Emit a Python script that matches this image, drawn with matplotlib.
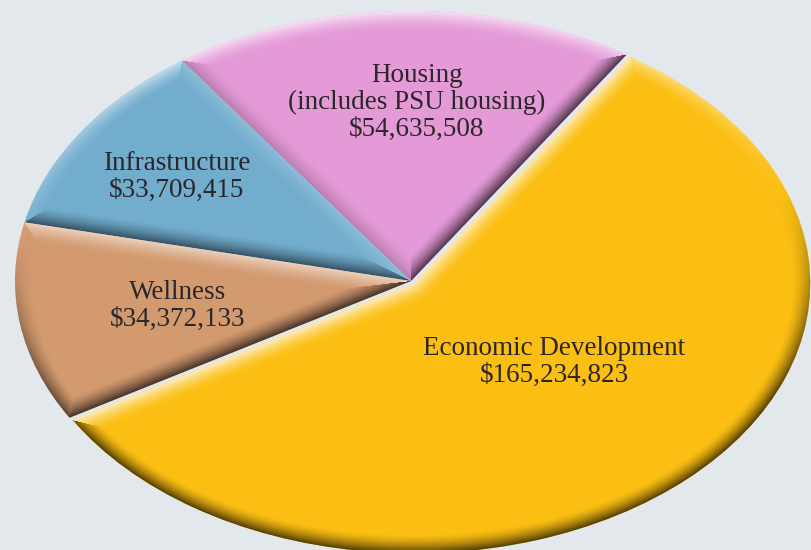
import numpy as np
import matplotlib
matplotlib.use("Agg")
import matplotlib.pyplot as plt
from matplotlib.colors import to_rgb

# data
categories = ["Housing\n(includes PSU housing)", "Infrastructure", "Wellness", "Economic Development"]
amounts = [54635508, 33709415, 34372133, 165234823]
colors = ["#E59AD8", "#72ADCE", "#D39A70", "#FBBF13"]
explode = [0, 0, 0, 0.012]
# label block centres in pixels (x from left, y from top)
label_pos = [(417, 102), (177, 177), (178, 306), (554, 362)]

W, H = 811, 550
bg = "#E3E8ED"
fig = plt.figure(figsize=(W / 100, H / 100), dpi=100, facecolor=bg)
ax = fig.add_axes([0, 0, 1, 1])
ax.set_facecolor(bg)

wedges, _ = ax.pie(amounts, colors=colors, explode=explode, startangle=57,
                   wedgeprops=dict(linewidth=0))
# stretch the pie into an ellipse
ax.set_aspect("auto")
cx0, cy0 = 411, 269      # pie centre, px from left / bottom
rx, ry = 396, 270        # radii in px
ax.set_xlim(-cx0 / rx, (W - cx0) / rx)
ax.set_ylim(-cy0 / ry, (H - cy0) / ry)
ax.axis("off")

# bevel shading, one overlay per wedge clipped to the wedge
xlim, ylim = ax.get_xlim(), ax.get_ylim()
sx = W / (xlim[1] - xlim[0])
sy = H / (ylim[1] - ylim[0])
gx, gy = np.meshgrid(np.arange(W) + 0.5, np.arange(H) + 0.5)
light = np.array([np.cos(np.radians(120)), np.sin(np.radians(120))])
bevel = 19.0

for w, col in zip(wedges, colors):
    cx = (w.center[0] - xlim[0]) * sx
    cy = (w.center[1] - ylim[0]) * sy
    a, b = w.r * sx, w.r * sy
    px, py = gx - cx, gy - cy
    phi = np.arctan2(py / b, px / a)
    rn = np.hypot(px / a, py / b)
    R = np.hypot(a * np.cos(phi), b * np.sin(phi))
    dists = [(1 - rn) * R]
    c76 = np.cos(np.radians(76))
    shades = [np.clip((np.cos(phi - np.radians(96)) - c76) / (1 - c76), -1, 1)]
    for th, sign in [(w.theta1, -1), (w.theta2, 1)]:
        t = np.radians(th)
        u = np.array([a * np.cos(t), b * np.sin(t)])
        u /= np.linalg.norm(u)
        along = px * u[0] + py * u[1]
        d = np.where(along > 0, np.abs(u[0] * py - u[1] * px), np.hypot(px, py))
        n = np.array([-sign * u[1], sign * u[0]])
        dists.append(d)
        shades.append(np.full_like(d, n @ light))
    dists = np.array(dists)
    shades = np.array(shades)
    idx = np.argmin(dists, axis=0)
    d = np.take_along_axis(dists, idx[None], 0)[0]
    s = np.take_along_axis(shades, idx[None], 0)[0]
    f = np.clip(1 - d / bevel, 0, 1) ** 1.5

    base = np.array(to_rgb(col))
    lite = base + (1 - base) * 0.75
    dark = base * 0.28
    rgba = np.zeros((H, W, 4))
    pos = s > 0
    rgba[pos, :3] = lite
    rgba[~pos, :3] = dark
    rgba[..., 3] = np.clip(np.abs(s) * f * 0.95, 0, 1)
    im = ax.imshow(rgba, extent=(xlim[0], xlim[1], ylim[0], ylim[1]), origin="lower",
                   interpolation="bilinear", zorder=2, aspect="auto")
    im.set_clip_path(w)

ax.set_xlim(xlim)
ax.set_ylim(ylim)

for cat, amt, (lx, ly) in zip(categories, amounts, label_pos):
    fig.text(lx / W, 1 - ly / H, f"{cat}\n${amt:,}", ha="center", va="center",
             multialignment="center", fontsize=19.5, family="Liberation Serif",
             color="#2B2628", linespacing=1.1, zorder=5)

fig.savefig("out.png", dpi=100, facecolor=bg)
